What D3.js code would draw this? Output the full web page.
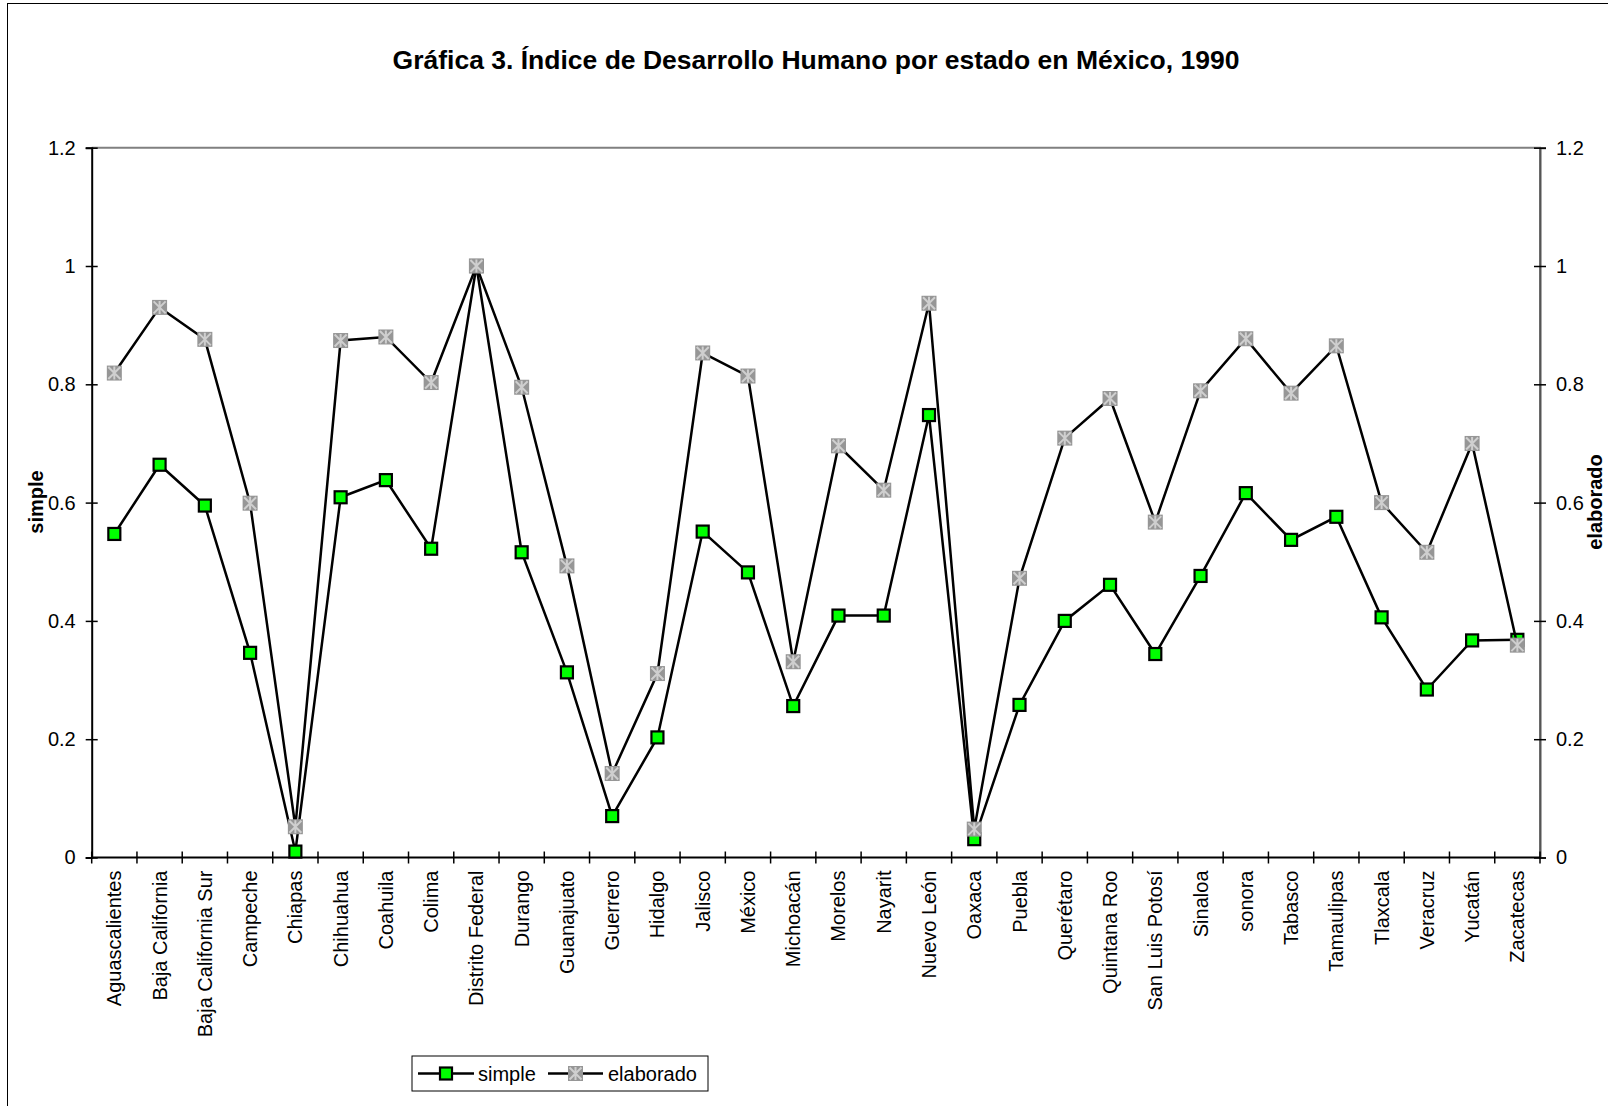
<!DOCTYPE html>
<html>
<head>
<meta charset="utf-8">
<script src="https://cdn.jsdelivr.net/npm/d3@7"></script>
<style>
  body { margin: 0; background: #fff; }
  text { font-family: "Liberation Sans", Arial, sans-serif; fill: #000; }
</style>
</head>
<body>
<script>
const estados = ['Aguascalientes', 'Baja California', 'Baja California Sur', 'Campeche', 'Chiapas',
  'Chihuahua', 'Coahuila', 'Colima', 'Distrito Federal', 'Durango', 'Guanajuato', 'Guerrero',
  'Hidalgo', 'Jalisco', 'México', 'Michoacán', 'Morelos', 'Nayarit', 'Nuevo León', 'Oaxaca',
  'Puebla', 'Querétaro', 'Quintana Roo', 'San Luis Potosí', 'Sinaloa', 'sonora', 'Tabasco',
  'Tamaulipas', 'Tlaxcala', 'Veracruz', 'Yucatán', 'Zacatecas'];

const simple = [0.547, 0.664, 0.595, 0.346, 0.010, 0.609, 0.638, 0.522, 1.0, 0.516, 0.313, 0.070,
  0.203, 0.551, 0.482, 0.256, 0.409, 0.409, 0.748, 0.031, 0.258, 0.400, 0.461, 0.344, 0.476,
  0.616, 0.537, 0.576, 0.406, 0.284, 0.367, 0.368];

const elaborado = [0.819, 0.930, 0.876, 0.599, 0.052, 0.874, 0.880, 0.803, 1.0, 0.795, 0.493, 0.142,
  0.311, 0.853, 0.814, 0.331, 0.696, 0.621, 0.937, 0.048, 0.472, 0.709, 0.776, 0.567, 0.789,
  0.877, 0.785, 0.865, 0.600, 0.516, 0.700, 0.359];

const yTicks = [0, 0.2, 0.4, 0.6, 0.8, 1, 1.2];

const W = 1608;
const H = 1106;
const plot = { left: 91.7, right: 1540, top: 147.7, bottom: 857.5 };

const svg = d3.select('body').append('svg')
  .attr('width', W)
  .attr('height', H);

// outer chart border (runs off the bottom and right)
svg.append('rect')
  .attr('x', 7.5).attr('y', 3.5)
  .attr('width', 1700).attr('height', 1200)
  .attr('fill', '#fff')
  .attr('stroke', '#000')
  .attr('stroke-width', 1);

svg.append('text')
  .attr('x', 816)
  .attr('y', 69)
  .attr('text-anchor', 'middle')
  .style('font-weight', 'bold')
  .style('font-size', '26.5px')
  .text('Gráfica 3. Índice de Desarrollo Humano por estado en México, 1990');

const x = d3.scaleBand()
  .domain(estados)
  .range([plot.left, plot.right]);

const y = d3.scaleLinear()
  .domain([0, 1.2])
  .range([plot.bottom, plot.top]);

// plot frame: top and right in grey
svg.append('path')
  .attr('d', `M${plot.left},${plot.top}H${plot.right}V${plot.bottom}`)
  .attr('fill', 'none')
  .attr('stroke', '#808080')
  .attr('stroke-width', 2);

// left axis
const gLeft = svg.append('g')
  .attr('transform', `translate(${plot.left},0)`)
  .call(d3.axisLeft(y).tickValues(yTicks).tickFormat(d => String(d)).tickSize(6).tickPadding(10));
gLeft.selectAll('.tick line').attr('x1', 6).attr('stroke', '#000').attr('stroke-width', 1.5);
gLeft.select('.domain').attr('stroke', '#000').attr('stroke-width', 2);
gLeft.selectAll('.tick text').style('font-size', '20px').attr('font-family', null);

// right axis
const gRight = svg.append('g')
  .attr('transform', `translate(${plot.right},0)`)
  .call(d3.axisRight(y).tickValues(yTicks).tickFormat(d => String(d)).tickSize(6).tickPadding(10));
gRight.selectAll('.tick line').attr('x1', -6).attr('stroke', '#000').attr('stroke-width', 1.5);
gRight.select('.domain').attr('stroke', '#555').attr('stroke-width', 2);
gRight.selectAll('.tick text').style('font-size', '20px').attr('font-family', null);

// bottom category axis: ticks between categories
const gBottom = svg.append('g')
  .attr('transform', `translate(0,${plot.bottom})`);
gBottom.append('line')
  .attr('x1', plot.left).attr('x2', plot.right)
  .attr('stroke', '#000').attr('stroke-width', 2);
gBottom.selectAll('.cat-tick')
  .data(estados.map(d => x(d)).concat([plot.right]))
  .enter().append('line')
  .attr('class', 'cat-tick')
  .attr('x1', d => d).attr('x2', d => d)
  .attr('y1', -6).attr('y2', 6)
  .attr('stroke', '#000').attr('stroke-width', 1.5);
gBottom.selectAll('.cat-label')
  .data(estados)
  .enter().append('text')
  .attr('class', 'cat-label')
  .attr('transform', d => `translate(${x(d) + x.bandwidth() / 2},13) rotate(-90)`)
  .attr('text-anchor', 'end')
  .attr('dy', '0.35em')
  .style('font-size', '20px')
  .text(d => d);

// axis titles
svg.append('text')
  .attr('transform', `translate(36,502) rotate(-90)`)
  .attr('text-anchor', 'middle')
  .attr('dy', '0.35em')
  .style('font-weight', 'bold')
  .style('font-size', '20px')
  .text('simple');

svg.append('text')
  .attr('transform', `translate(1595,502) rotate(-90)`)
  .attr('text-anchor', 'middle')
  .attr('dy', '0.35em')
  .style('font-weight', 'bold')
  .style('font-size', '20px')
  .text('elaborado');

const cx = (d, i) => x(estados[i]) + x.bandwidth() / 2;
const line = d3.line()
  .x((d, i) => cx(d, i))
  .y(d => y(d));

const drawSquare = (g, s) => {
  g.append('rect')
    .attr('x', -s).attr('y', -s)
    .attr('width', 2 * s).attr('height', 2 * s)
    .attr('fill', '#00ff00')
    .attr('stroke', '#000')
    .attr('stroke-width', 2.2);
};

const drawStar = (g, s) => {
  g.append('rect')
    .attr('x', -s).attr('y', -s)
    .attr('width', 2 * s).attr('height', 2 * s)
    .attr('fill', '#969696');
  const k = s - 1.5;
  g.append('path')
    .attr('d', `M${-k},${-k}L${k},${k}M${-k},${k}L${k},${-k}M0,${-s + 1}V${s - 1}`)
    .attr('stroke', '#cfcfcf')
    .attr('stroke-width', 2);
};

// simple series
svg.append('path')
  .datum(simple)
  .attr('d', line)
  .attr('fill', 'none')
  .attr('stroke', '#000')
  .attr('stroke-width', 2.5);
svg.selectAll('.m-simple')
  .data(simple)
  .enter().append('g')
  .attr('class', 'm-simple')
  .attr('transform', (d, i) => `translate(${cx(d, i)},${y(d)})`)
  .each(function () { drawSquare(d3.select(this), 6); });

// elaborado series
svg.append('path')
  .datum(elaborado)
  .attr('d', line)
  .attr('fill', 'none')
  .attr('stroke', '#000')
  .attr('stroke-width', 2.5);
svg.selectAll('.m-elab')
  .data(elaborado)
  .enter().append('g')
  .attr('class', 'm-elab')
  .attr('transform', (d, i) => `translate(${cx(d, i)},${y(d)})`)
  .each(function () { drawStar(d3.select(this), 7.5); });

// legend
const legend = svg.append('g');
legend.append('rect')
  .attr('x', 412).attr('y', 1056)
  .attr('width', 296).attr('height', 35)
  .attr('fill', '#fff')
  .attr('stroke', '#000')
  .attr('stroke-width', 1);

const legendItems = [
  { name: 'simple', x1: 418, x2: 474, draw: drawSquare, size: 6, tx: 478 },
  { name: 'elaborado', x1: 548, x2: 603, draw: drawStar, size: 7.5, tx: 608 },
];
legendItems.forEach((it) => {
  legend.append('line')
    .attr('x1', it.x1).attr('x2', it.x2)
    .attr('y1', 1073.5).attr('y2', 1073.5)
    .attr('stroke', '#000').attr('stroke-width', 2.5);
  const g = legend.append('g')
    .attr('transform', `translate(${(it.x1 + it.x2) / 2},1073.5)`);
  it.draw(g, it.size);
  legend.append('text')
    .attr('x', it.tx).attr('y', 1073.5)
    .attr('dy', '0.35em')
    .style('font-size', '20px')
    .text(it.name);
});
</script>
</body>
</html>
